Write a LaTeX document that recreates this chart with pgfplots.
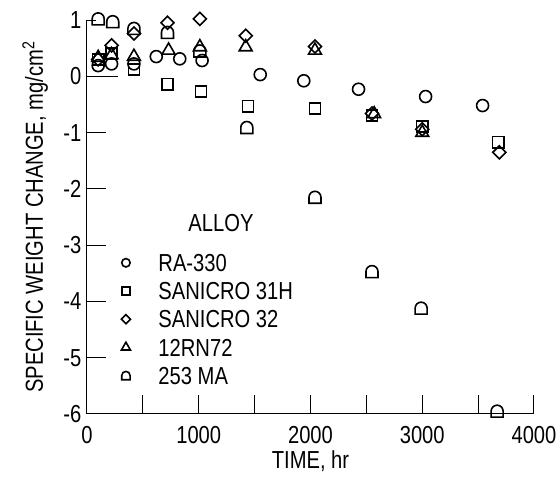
\documentclass[border=0pt]{standalone}
\usepackage{pgfplots}
\pgfplotsset{compat=1.18}
\usepackage{pgfplotstable}
\usepackage{fontspec}
\setmainfont{Liberation Sans}[FakeStretch=0.82]
\usetikzlibrary{calc}
\newcommand{\myfont}{\fontsize{12.3}{14}\selectfont}

\pgfdeclareplotmark{arch}{%
 \pgfpathmoveto{\pgfqpoint{-\pgfplotmarksize}{-\pgfplotmarksize}}%
 \pgfpathlineto{\pgfqpoint{-\pgfplotmarksize}{0pt}}%
 \pgfpatharc{180}{0}{\pgfplotmarksize}%
 \pgfpathlineto{\pgfqpoint{\pgfplotmarksize}{-\pgfplotmarksize}}%
 \pgfpathclose
 \pgfusepathqstroke}

\pgfplotstableread{
t w
100 0.19
220 0.22
420 0.22
620 0.35
830 0.31
1030 0.28
1550 0.03
1940 -0.08
2430 -0.23
3030 -0.36
3540 -0.52
}\raalloy
\pgfplotstableread{
t w
100 0.30
220 0.40
420 0.12
720 -0.14
1020 -0.27
1440 -0.53
2040 -0.57
2550 -0.70
3000 -0.89
3680 -1.17
}\sanA
\pgfplotstableread{
t w
100 0.30
220 0.55
420 0.76
720 0.95
1010 1.02
1420 0.72
2040 0.53
2550 -0.66
3000 -0.94
3690 -1.35
}\sanB
\pgfplotstableread{
t w
100 0.33
220 0.38
420 0.35
730 0.46
1010 0.52
1420 0.52
2040 0.46
2570 -0.67
3000 -1.00
}\rn
\pgfplotstableread{
t w
100 1.02
230 0.97
420 0.85
720 0.78
1010 0.45
1430 -0.91
2040 -2.15
2550 -3.47
2990 -4.12
3670 -5.95
}\ma

\begin{document}
\begin{tikzpicture}[font=\myfont]
\path[use as bounding box] (-43.5pt,-33pt) rectangle (235.5pt,207pt);
\begin{axis}[
  at={(0,0)}, anchor=south west,
  scale only axis, width=223.5pt, height=197pt,
  xmin=0, xmax=4000, ymin=-6, ymax=1,
  clip=false,
  axis x line*=bottom, axis y line*=left,
  axis line style={-, line width=0.5pt, black},
  every tick/.style={black, line width=0.5pt},
  tick align=inside,
  major tick length=9.5pt,
  xtick={0,500,...,4000},
  xticklabels={0,,1000,,2000,,3000,,4000},
  ytick={-6,-5,-4,-3,-2,-1,0},
  yticklabels={-6,-5,-4,-3,-2,-1,0},
  extra y ticks={1}, extra y tick labels={1},
  extra y tick style={major tick length=4.6pt},
  tick label style={font=\myfont},
  yticklabel style={inner xsep=2.6pt},
  xticklabel style={inner ysep=6.2pt},
  xlabel={TIME, hr},
  ylabel={SPECIFIC WEIGHT CHANGE, mg/cm\textsuperscript{2}},
  label style={font=\myfont},
  xlabel style={at={(axis description cs:0.5,0)}, anchor=north, yshift=-18pt, inner sep=0pt},
  ylabel style={at={($(axis description cs:0,0.5)+(-22pt,0)$)}, anchor=base, inner sep=0pt},
  legend style={draw=none, fill=none, inner sep=0pt, font=\myfont,
    at={(axis cs:304,-3.15)}, anchor=north west,
    row sep=5.3pt, column sep=14pt,
    nodes={inner sep=0pt, text height=8.8pt, text depth=0pt}},
  legend cell align=left,
  legend image code/.code={\draw[#1, /tikz/every mark/.append style={scale=0.7}] plot coordinates {(0pt,0pt)};},
]
\addplot[only marks, black, mark=o, mark size=3pt, mark options={line width=0.8pt}] table[x=t,y=w]{\raalloy};
\addlegendentry{RA-330}
\addplot[only marks, black, mark=square, mark size=2.8pt, mark options={line width=0.8pt}] table[x=t,y=w]{\sanA};
\addlegendentry{SANICRO 31H}
\addplot[only marks, black, mark=square, mark size=2.3pt, mark options={line width=0.8pt, rotate=45}] table[x=t,y=w]{\sanB};
\addlegendentry{SANICRO 32}
\addplot[only marks, black, mark=triangle, mark size=3.7pt, mark options={line width=0.8pt}] table[x=t,y=w]{\rn};
\addlegendentry{12RN72}
\addplot[only marks, black, mark=arch, mark size=3pt, mark options={line width=0.8pt}] table[x=t,y=w]{\ma};
\addlegendentry{253 MA}
\draw[line width=0.5pt] (axis cs:0,0) -- (axis cs:277,0);
\node[anchor=center, inner sep=0pt] at (axis cs:1199,-2.61) {ALLOY};
\end{axis}
\end{tikzpicture}
\end{document}
